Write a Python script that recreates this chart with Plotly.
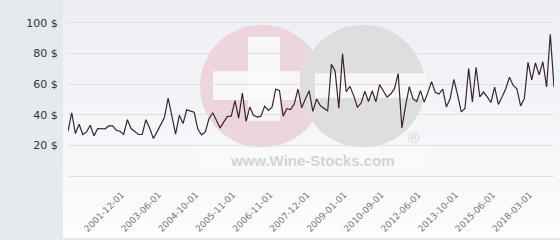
import plotly.graph_objects as go

# ---- data ----
prices = [29.2, 41.3, 27.7, 33.8, 27.1, 28.8, 33.1, 26.2, 31.0, 30.8,
          30.8, 32.7, 32.7, 29.9, 29.2, 27.1, 36.8, 31.0, 29.2, 27.1,
          27.1, 36.8, 31.4, 24.5, 28.8, 33.6, 38.3, 50.8, 38.0, 27.3,
          39.6, 34.2, 43.2, 42.5, 41.7, 30.5, 26.9, 28.8, 37.4, 41.3,
          36.3, 31.4, 35.3, 38.9, 39.1, 49.2, 37.8, 54.2, 35.7, 45.0,
          39.6, 38.5, 39.1, 45.6, 42.8, 44.9, 56.8, 55.7, 39.1, 43.9,
          43.4, 47.1, 56.8, 44.5, 50.5, 55.7, 42.2, 50.3, 46.0, 44.0,
          42.4, 72.9, 68.6, 44.3, 80.0, 55.0, 58.5, 52.5, 45.0, 47.5,
          55.3, 48.6, 55.5, 48.5, 59.7, 55.5, 51.5, 53.5, 57.0, 66.9,
          31.4, 46.0, 58.3, 50.3, 48.6, 55.7, 48.2, 54.6, 61.5, 54.6,
          53.5, 56.8, 45.0, 50.4, 63.0, 53.1, 41.9, 44.1, 70.3, 48.4,
          71.0, 51.6, 54.8, 51.6, 48.0, 58.1, 46.7, 51.6, 57.0, 64.5,
          59.1, 57.0, 45.8, 50.5, 74.2, 62.8, 73.8, 66.0, 74.6, 58.1,
          92.5, 58.1]
point_index = list(range(len(prices)))
tick_index = [15, 25, 35, 45, 55, 65, 75, 85, 95, 105, 115, 125]
tick_labels = ["2001-12-01", "2003-06-01", "2004-10-01", "2005-11-01",
               "2006-11-01", "2007-12-01", "2009-01-01", "2010-09-01",
               "2012-06-01", "2013-10-01", "2015-06-01", "2018-03-01"]
y_ticks = [20, 40, 60, 80, 100]
y_tick_labels = ["20 $", "40 $", "60 $", "80 $", "100 $"]

# ---- layout geometry ----
W, H = 560, 240
L, R, T, B = 68, 6, 10, 62
PW, PH = W - L - R, H - T - B


def px(x):
    return (x - L) / PW


def py(y):
    return (H - B - y) / PH


shapes = []
# right panel vertical gradient
n = 30
for k in range(n):
    f = k / (n - 1)
    r = round(237 + (252 - 237) * f)
    g = round(239 + (252 - 239) * f)
    b = round(243 + (253 - 243) * f)
    shapes.append(dict(type="rect", xref="paper", yref="paper",
                       x0=px(63), x1=px(W), y0=py(H * k / n),
                       y1=py(H * (k + 1) / n + 0.5),
                       fillcolor=f"rgb({r},{g},{b})", line_width=0,
                       layer="below"))
# watermark
shapes.append(dict(type="rect", xref="paper", yref="paper",
                   x0=px(196), x1=px(428), y0=py(150), y1=py(174),
                   fillcolor="rgba(255,255,255,0.3)", line_width=0, layer="below"))
shapes.append(dict(type="circle", xref="paper", yref="paper",
                   x0=px(200), x1=px(324), y0=py(25), y1=py(149),
                   fillcolor="#ecd5dc", line_width=0, layer="below"))
shapes.append(dict(type="circle", xref="paper", yref="paper",
                   x0=px(301), x1=px(425), y0=py(25), y1=py(149),
                   fillcolor="#dedee1", line_width=0, layer="below"))
for (x0, x1, y0, y1) in [(248, 280, 37, 122), (213, 300, 72, 101), (315, 426, 74, 99)]:
    shapes.append(dict(type="rect", xref="paper", yref="paper",
                       x0=px(x0), x1=px(x1), y0=py(y0), y1=py(y1),
                       fillcolor="rgba(250,250,252,0.9)", line_width=0,
                       layer="below"))

annotations = [
    dict(text="<b>www.Wine-Stocks.com</b>", xref="paper", yref="paper",
         x=px(312), y=py(162), xanchor="center", yanchor="middle",
         showarrow=False,
         font=dict(family="Liberation Sans", size=15, color="#d4d4d7")),
    dict(text="®", xref="paper", yref="paper", x=px(413), y=py(139),
         xanchor="center", yanchor="middle", showarrow=False,
         font=dict(family="Liberation Sans", size=15, color="#d0d0d3")),
]

fig = go.Figure()
fig.add_trace(go.Scatter(x=point_index, y=prices, mode="lines",
                         line=dict(color="#3a2430", width=1.2),
                         hoverinfo="y", showlegend=False))

fig.update_layout(
    width=W, height=H, autosize=False,
    margin=dict(l=L, r=R, t=T, b=B, pad=0),
    paper_bgcolor="#e6eaee",
    plot_bgcolor="rgba(0,0,0,0)",
    font=dict(family="DejaVu Sans", size=11, color="#333333"),
    shapes=shapes,
    annotations=annotations,
    xaxis=dict(range=[0, len(prices) - 1], tickmode="array",
               tickvals=tick_index, ticktext=tick_labels, tickangle=-45,
               showgrid=False, zeroline=False, showline=True,
               linecolor="#e0e0e2", linewidth=1,
               ticks="outside", ticklen=9, tickcolor="rgba(0,0,0,0)",
               ticklabelshift=-2,
               tickfont=dict(family="DejaVu Sans", size=9, color="#777777")),
    yaxis=dict(range=[0, PH / 1.55], tickmode="array", tickvals=y_ticks,
               ticktext=y_tick_labels, showgrid=True, gridcolor="#e0e0e2",
               gridwidth=1, zeroline=False, showline=False,
               ticks="outside", ticklen=7, tickcolor="rgba(0,0,0,0)",
               tickfont=dict(family="DejaVu Sans", size=11, color="#333333")),
)

fig.write_html("out.html")
